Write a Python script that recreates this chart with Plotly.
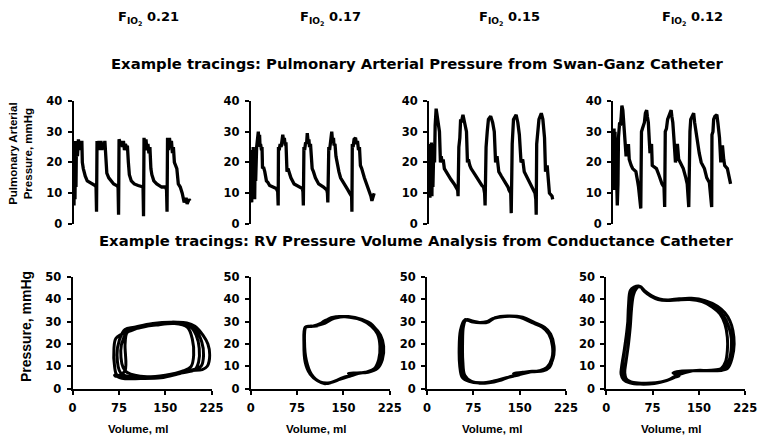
import plotly.graph_objects as go

# ---------------- Data: Pulmonary arterial pressure tracings (time in arbitrary units, mmHg) -------------
pa_t_021 = [0, 0.5, 1, 1.5, 2, 2.5, 3, 4, 5, 6, 7, 8, 8.5, 9, 10, 11, 12, 14, 17, 20, 22, 23, 23.5, 24, 25, 26, 27,
            28, 29, 30, 31, 32, 33, 34, 36, 38, 41, 44, 45.5, 46, 46.5, 48, 49, 50, 51, 52, 53, 54, 55, 56, 57, 59,
            62, 66, 71, 71.5, 72, 73, 74, 75, 76, 77, 78, 79, 80, 82, 85, 90, 94, 95, 95.5, 96, 97, 98, 99, 100,
            101, 102, 103, 105.5, 107, 109, 111, 113, 115, 116, 118, 119]
pa_p_021 = [10, 6, 27, 8, 26, 12, 27, 22, 27.5, 24, 27, 25, 27, 20, 18, 16, 15.5, 14, 13.5, 13, 12.5, 12, 4, 27, 25, 27,
            24, 27, 24, 26.5, 25, 27, 19, 16.5, 15, 14, 13, 12.5, 12, 3, 27.5, 26, 27, 25, 27, 24, 26, 25, 25.5, 20,
            16, 14, 13, 12.5, 12, 2.5, 28, 25, 27.5, 24, 26, 23, 25, 18, 16, 14, 13, 12, 12, 11, 4, 28, 24, 28, 25,
            27, 23, 25, 20, 18, 13, 12, 10, 7, 8.5, 6.5, 8, 7.5]

pa_t_017 = [0.5, 1, 1.5, 2, 2.5, 3, 3.5, 4, 4.5, 5, 6, 7, 7.7, 8.3, 9, 9.5, 10, 11, 11.5, 12, 13, 14.3, 16, 17.5,
            19.3, 22.7, 26, 27.5, 28, 28.3, 29, 30, 31, 32.7, 33.5, 34.3, 35, 36, 37, 38, 41, 44.3, 49.3, 52.7,
            53.3, 53.7, 54.3, 55, 56, 57, 57.7, 58.5, 59.5, 60, 61, 62, 62.7, 64, 66, 69.3, 74.3, 77.7, 78.3, 78.7,
            79.7, 80.5, 81.5, 82.7, 83.5, 84.5, 85, 86, 87, 88.3, 90, 91.7, 96, 99.3, 101, 103, 103.3, 103.7,
            104.5, 105.5, 107, 108, 109, 110, 111, 112, 113.3, 116, 119.3, 121, 122.7, 123.7, 125, 126]
pa_p_017 = [10, 7, 24, 9, 25, 12, 24, 8, 22, 14, 25, 27, 30, 27, 29, 25, 26, 24, 25, 18, 18.5, 17, 14, 13.5,
            12.5, 12, 11.5, 10.5, 6, 25, 24, 26, 25, 29, 27, 28, 26, 26, 17, 18, 15, 13, 12, 11.5,
            10.5, 6, 25, 24, 26.5, 26, 29.5, 27, 27, 25, 26, 19, 18, 17, 15, 13, 12, 11, 10, 7,
            25, 24, 27, 30, 27, 28, 25.5, 26, 22, 19, 17, 15, 13, 11, 10, 9, 4, 26,
            25, 27.5, 28, 26, 27, 24, 25, 19, 18, 15, 12, 11, 9, 7.5, 9, 10]

pa_t_015 = [0.5, 1, 1.5, 2, 2.5, 3, 3.5, 4, 5, 5.7, 6.3, 7.3, 8, 9, 10, 10.7, 11.7, 12.5, 13.5, 14.5, 15.7, 19,
            22.3, 25.7, 27.3, 29.3, 29.7, 30.5, 31.5, 32.3, 33, 34.7, 36, 37.3, 38.3, 39.3, 40.3, 41.7, 43, 47,
            50.7, 54, 55.7, 56.8, 57.3, 58.3, 59.5, 60.7, 63, 65, 66.7, 68, 69.5, 71.3, 74, 77.3, 80.7, 81.7, 83.5,
            84, 85, 86.3, 89, 90.7, 92.3, 94, 95.7, 97.3, 100.7, 104, 105.7, 108.3, 109.1, 109.5, 110, 111,
            112.3, 114.7, 116.3, 118, 119, 120.7, 121.3, 123, 125.7, 126.3]
pa_p_015 = [25, 8.5, 26, 10, 26.5, 9, 25, 12, 26, 20, 32, 37.5, 36, 33, 31, 30, 20, 22, 20, 21, 18, 16,
            14.5, 13, 12, 11, 9, 25, 28, 34, 33, 35.5, 33, 31, 30, 20, 21, 19, 18, 16,
            14, 12.5, 12, 10, 6, 25, 30, 34, 35, 33, 30, 20, 22, 17, 15.5, 14, 12, 11, 10,
            3.5, 26, 34, 35.5, 33, 29, 20, 21, 17, 15, 13, 12, 10, 8, 3, 26, 30,
            34, 36, 34, 28, 17, 19, 17, 10, 9, 8]

pa_t_012 = [0.5, 1, 1.5, 2, 2.5, 3, 4, 4.3, 5, 5.5, 6.7, 7.5, 8.3, 9, 10, 10.7, 11.5, 12.3, 13.3, 14.5, 15.7, 16.5,
            17.3, 18.5, 20, 23.3, 25, 26, 28.3, 29, 30, 31, 32, 33, 34.3, 35, 36, 37, 37.7, 38.5, 39.3, 40, 42,
            44.3, 46.7, 50, 52, 52.7, 53.3, 54.5, 55.7, 57, 58.5, 59.3, 60, 61, 62.3, 63.7, 64.5, 65.7, 67, 68.3,
            71.7, 74.3, 75.7, 77.3, 77.7, 78.5, 79.3, 81, 82.3, 83.3, 84.3, 85.5, 86.7, 88, 90, 93.3, 95.7, 98.3,
            100.7, 101, 102, 102.7, 104, 106, 107, 108.7, 110, 111, 111.7, 113, 114, 116.7, 118.3, 120]
pa_p_012 = [12, 31, 11, 30, 12, 28, 10, 6, 13, 28, 33, 32, 35, 38.5, 37, 34, 33, 28, 22, 24, 26, 21,
            20, 19, 18, 17, 14, 12, 5, 30, 31, 32, 33, 36, 37, 35, 33, 27, 23, 25, 26, 19, 18.5,
            18, 16, 13, 12, 5.5, 30, 31, 34, 35, 36, 37, 35, 33, 27, 20, 22, 26, 21, 20,
            18, 15, 13, 5.5, 29, 30, 34, 35, 36, 33, 31, 27, 25, 23, 20, 18, 15, 13.5,
            5.5, 29, 30, 34, 35, 35.5, 33, 28, 20, 23, 25.5, 21, 19, 18, 15, 13]

# ---------------- Data: RV pressure-volume loops (volume ml, pressure mmHg), several beats each -------------
pv_v_021 = [68, 80, 110, 143, 170, 190, 210, 218, 222, 219, 211, 198, 185, 160, 130, 105, 88, 80, 70, 67, 68,
            72, 90, 130, 170, 195, 208, 212, 209, 200, 185, 160, 130, 100, 85, 76, 72,
            78, 100, 140, 175, 198, 204, 205, 200, 190, 165, 130, 105, 90, 83, 78,
            85, 110, 150, 180, 192, 196, 194, 186, 165, 135, 110, 95, 88, 85, 85, 76, 70, 68]
pv_p_021 = [6, 4.6, 4.5, 4.8, 6.5, 8, 8.5, 10, 15, 20, 24, 28, 29.5, 29.7, 29, 27.5, 26, 24.5, 22.5, 18, 10,
            6, 4.7, 5, 6.7, 8.5, 10, 15, 21, 26, 29, 29.8, 29.2, 27.5, 26.5, 22, 15,
            7, 5, 5.2, 7, 8.5, 12, 18, 24, 28, 29.5, 28.5, 27, 26, 23, 17,
            8, 5.5, 6, 8, 10, 15, 22, 27.5, 29.2, 28.5, 27.5, 26, 25, 20, 8, 6, 5.5, 6]

pv_v_017 = [88, 87, 89, 96, 108, 120, 135, 150, 165, 158, 172, 190, 205, 213, 215, 210, 200, 182, 160, 140, 120,
            108, 95, 88,
            86, 88, 95, 110, 125, 140, 155, 170, 188, 200, 207, 209, 205, 195, 178, 155, 130, 115, 100, 89,
            87, 90, 98, 112, 128, 145, 160, 175, 192, 203, 210, 212, 207, 197, 180, 158, 135, 117, 102, 90, 88]
pv_p_017 = [27, 18, 11, 6.5, 3.5, 2.2, 3.2, 5, 6, 6.8, 7, 7.3, 9, 13, 19, 24, 27.5, 30.5, 32, 32.2, 30.5,
            28.2, 28, 27.5,
            20, 12, 7, 3.2, 2.3, 3.8, 5.2, 6.5, 7.5, 9, 13, 19, 24.5, 28, 31, 32.3, 31.8, 29.5, 28, 27.5,
            21, 12.5, 6.5, 3, 2.6, 4.2, 5.5, 6.8, 7.8, 9.5, 13.5, 19, 24.5, 28.5, 31, 32.3, 31.5, 29, 28, 27.8, 27]

pv_v_015 = [62, 58, 56, 57, 60, 70, 85, 100, 117, 133, 150, 140, 155, 170, 186, 196, 204, 205.5, 200, 190, 175,
            155, 130, 110, 100, 90, 75, 65,
            60, 54, 52, 53, 57, 68, 85, 105, 125, 145, 170, 188, 198, 203, 204, 199, 188, 172, 152, 128, 108, 98,
            88, 72, 63,
            59, 57.5, 58, 61, 72, 88, 108, 130, 160, 182, 194, 202, 203, 197, 186, 170, 150, 126, 107, 96, 86, 72,
            63, 62]
pv_p_015 = [31, 28, 20, 12, 6, 3.5, 2.4, 2.6, 3.6, 5.2, 6.2, 6.8, 7.3, 7.8, 7.9, 9.3, 13.6, 19, 24.5, 27.5,
            29.5, 32, 32.6, 31.8, 30, 29.5, 30.2, 31,
            30.5, 26, 18, 10, 5, 3.2, 2.5, 3, 4.5, 6, 7.5, 8, 9.5, 13, 19, 24.5, 27.8, 29.8, 32, 32.5, 31.5, 30,
            29.5, 30, 30.8,
            28, 20, 12, 6, 3.2, 2.6, 3.4, 5, 7.2, 8, 9.5, 13.5, 19, 24.5, 27.6, 29.6, 32, 32.4, 31.5, 30, 29.6,
            30.2, 30.8, 31]

pv_v_012 = [52.5, 45, 39, 36, 34.5, 31, 27, 26, 30, 40, 55, 75, 95, 110, 118, 108, 120, 145, 175, 190, 198, 202,
            202.5, 198, 190, 178, 160, 140, 120, 100, 85, 72, 62, 56,
            50, 42, 37, 33, 29, 25, 24, 28, 38, 55, 78, 98, 112, 122, 150, 180, 196, 204, 207, 205, 200, 192, 180,
            160, 138, 118, 100, 86, 73, 62, 55,
            49, 44, 41, 39, 36, 32, 30, 33, 42, 58, 80, 100, 115, 140, 170, 186, 193, 196, 196, 192, 184, 172, 155,
            135, 115, 98, 84, 72, 62, 56, 52.5]
pv_p_012 = [46, 45.5, 44, 37, 28, 20, 12, 8, 5, 3, 2.3, 2.2, 3.4, 5, 5.8, 7, 7.8, 8, 8, 8.5, 12, 17,
            22.3, 28, 32.5, 36, 39, 40, 40, 39.5, 40, 41.5, 43.8, 45.5,
            45.5, 43, 35, 25, 17, 10, 6.5, 4, 2.6, 2, 2.3, 3.6, 5.2, 7.5, 8, 8.2, 9, 14, 20, 26, 30.5, 34, 37,
            39.5, 40.5, 40.3, 39.8, 40.2, 41.8, 44, 45.8,
            45, 42, 36, 28, 20, 12, 7, 4, 2.8, 2.4, 2.6, 3.8, 6, 8, 8.2, 9, 12, 17, 23, 29, 33.5, 36.5, 39,
            40, 39.8, 39.5, 40, 41.5, 43.5, 45.5, 46]

fio2_labels = ["F<sub>IO<sub>2</sub></sub> 0.21", "F<sub>IO<sub>2</sub></sub> 0.17",
               "F<sub>IO<sub>2</sub></sub> 0.15", "F<sub>IO<sub>2</sub></sub> 0.12"]
pa_series = [(pa_t_021, pa_p_021), (pa_t_017, pa_p_017), (pa_t_015, pa_p_015), (pa_t_012, pa_p_012)]
pv_series = [(pv_v_021, pv_p_021), (pv_v_017, pv_p_017), (pv_v_015, pv_p_015), (pv_v_012, pv_p_012)]
vol_ticks = [0, 75, 150, 225]
pa_ticks = [0, 10, 20, 30, 40]
pv_ticks = [0, 10, 20, 30, 40, 50]

# ---------------- Layout geometry ----------------
W, H = 770, 443
top_left_px = [71, 252, 434, 622]
bot_left_px = [70, 252, 432, 615]
panel_w = 142
top_y = (97, 224)    # pixel top, bottom of 0-40 axis
bot_y = (279, 394)   # pixel top, bottom of 0-50 axis

def px_x(p):
    return p / W

def px_y(p):
    return 1 - p / H

FONT = "DejaVu Sans"
ARIAL = "Liberation Sans"
tickfont = dict(family=FONT, size=11.5, color="black", weight="bold")
axis_common = dict(showline=True, linecolor="black", linewidth=2, ticks="outside", ticklen=4,
                   tickwidth=2, tickcolor="black", showgrid=False, zeroline=False, tickfont=tickfont)

fig = go.Figure()
layout = dict(width=W, height=H, margin=dict(l=0, r=0, t=0, b=0), paper_bgcolor="white",
              plot_bgcolor="rgba(0,0,0,0)", showlegend=False)

for i in range(4):
    # top row: PA tracings
    xa = f"x{2*i+1}"
    ya = f"y{2*i+1}"
    t, p = pa_series[i]
    fig.add_trace(go.Scatter(x=t, y=p, mode="lines", line=dict(color="black", width=3.3),
                             xaxis=xa, yaxis=ya, hoverinfo="skip"))
    layout[f"xaxis{2*i+1}"] = dict(domain=[px_x(top_left_px[i]), px_x(top_left_px[i] + panel_w)],
                                   range=[0, panel_w], visible=False, anchor=ya)
    layout[f"yaxis{2*i+1}"] = dict(domain=[px_y(top_y[1]), px_y(top_y[0])], range=[0, 40],
                                   tickvals=pa_ticks, anchor=xa, ticklabelstandoff=3, **axis_common)
    # bottom row: PV loops
    xb = f"x{2*i+2}"
    yb = f"y{2*i+2}"
    v, pr = pv_series[i]
    fig.add_trace(go.Scatter(x=v, y=pr, mode="lines", line=dict(color="black", width=3, shape="spline",
                                                                    smoothing=1.0),
                             xaxis=xb, yaxis=yb, hoverinfo="skip"))
    layout[f"xaxis{2*i+2}"] = dict(domain=[px_x(bot_left_px[i]), px_x(bot_left_px[i] + panel_w)],
                                   range=[0, 225], tickvals=vol_ticks, anchor=yb, ticklabelstandoff=4,
                                   **axis_common)
    layout[f"yaxis{2*i+2}"] = dict(domain=[px_y(bot_y[1]), px_y(bot_y[0])], range=[0, 50],
                                   tickvals=pv_ticks, anchor=xb, ticklabelstandoff=3, **axis_common)

fig.update_layout(**layout)

ann = []
fio2_x = [148, 333, 516, 703]
for i in range(4):
    ann.append(dict(text=fio2_labels[i], x=px_x(fio2_x[i]), y=px_y(12), xref="paper", yref="paper",
                    showarrow=False, font=dict(family=FONT, size=13, color="black", weight="bold"),
                    xanchor="center", yanchor="middle"))
    ann.append(dict(text="Volume, ml", x=px_x(bot_left_px[i] + panel_w / 2 - 4), y=px_y(436),
                    xref="paper", yref="paper", showarrow=False,
                    font=dict(family=ARIAL, size=11.5, color="black", weight="bold"),
                    xanchor="center", yanchor="middle"))
ann.append(dict(text="Example tracings: Pulmonary Arterial Pressure from Swan-Ganz Catheter",
                x=px_x(422), y=px_y(58), xref="paper", yref="paper", showarrow=False,
                font=dict(family=FONT, size=14.8, color="black", weight="bold"), xanchor="center",
                yanchor="middle"))
ann.append(dict(text="Example tracings: RV Pressure Volume Analysis from Conductance Catheter",
                x=px_x(421), y=px_y(241), xref="paper", yref="paper", showarrow=False,
                font=dict(family=FONT, size=14.8, color="black", weight="bold"), xanchor="center",
                yanchor="middle"))
ann.append(dict(text="Pulmonary Arterial<br>Pressure, mmHg", x=px_x(17), y=px_y(152), xref="paper",
                yref="paper", showarrow=False, textangle=-90,
                font=dict(family=ARIAL, size=11.5, color="black", weight="bold"), xanchor="center",
                yanchor="middle"))
ann.append(dict(text="Pressure, mmHg", x=px_x(22), y=px_y(330), xref="paper", yref="paper",
                showarrow=False, textangle=-90,
                font=dict(family=ARIAL, size=14, color="black", weight="bold"), xanchor="center",
                yanchor="middle"))
fig.update_layout(annotations=ann)

fig.write_html("out.html", config={"displayModeBar": False},
               post_script="document.body.style.margin='0';")
